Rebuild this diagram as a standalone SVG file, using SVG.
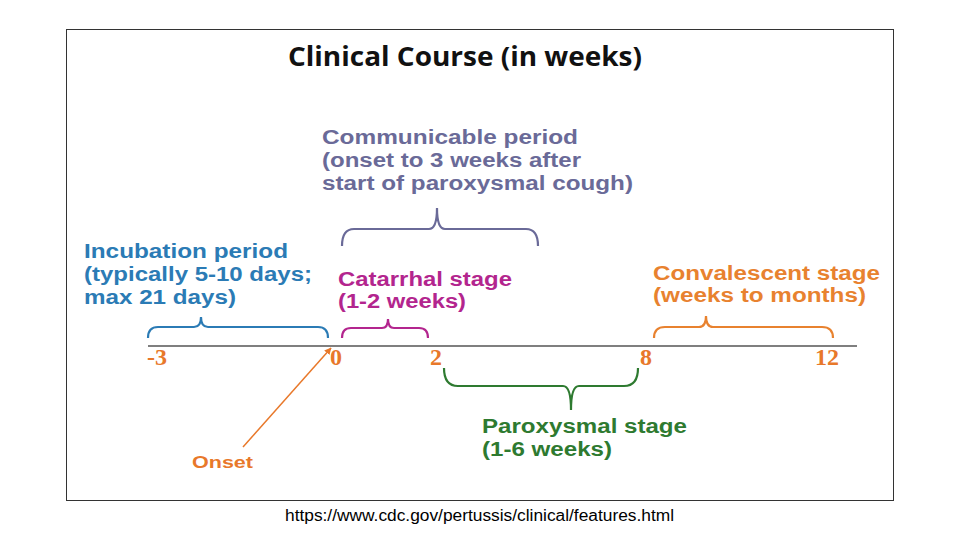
<svg xmlns="http://www.w3.org/2000/svg" width="960" height="540" viewBox="0 0 960 540">
<defs>
<style>
.lbl{font-family:"Liberation Sans",Arial,sans-serif;font-weight:bold;font-size:19.5px}
.tick{font-family:"Liberation Serif","Times New Roman",serif;font-weight:bold;font-size:24px;fill:#e8782a}
.brace{fill:none;stroke-width:2.2}
</style>
<marker id="ah" viewBox="0 0 10 10" refX="9" refY="5" markerWidth="7" markerHeight="7" orient="auto-start-reverse" markerUnits="userSpaceOnUse">
<path d="M0,0 L10,5 L0,10 z" fill="#e8782a"/>
</marker>
</defs>
<rect width="960" height="540" fill="#ffffff"/>
<rect x="66.5" y="29.5" width="827" height="471" fill="none" stroke="#333" stroke-width="1"/>
<text x="288" y="66" textLength="354" lengthAdjust="spacingAndGlyphs" font-family="Open Sans, Liberation Sans, sans-serif" font-weight="bold" font-size="26" fill="#111">Clinical Course (in weeks)</text>

<g id="axis">
<line x1="148" y1="346" x2="857" y2="346" stroke="#555" stroke-width="1.5"/>
<text class="tick" x="147" y="365">-3</text>
<text class="tick" x="330" y="365">0</text>
<text class="tick" x="430" y="365">2</text>
<text class="tick" x="640" y="365">8</text>
<text class="tick" x="815" y="365">12</text>
</g>

<g id="communicable">
<text class="lbl" fill="#6a6a98"><tspan x="322" y="144" textLength="256" lengthAdjust="spacingAndGlyphs">Communicable period</tspan><tspan x="322" y="167" textLength="259" lengthAdjust="spacingAndGlyphs">(onset to 3 weeks after</tspan><tspan x="322" y="190" textLength="311" lengthAdjust="spacingAndGlyphs">start of paroxysmal cough)</tspan></text>
<path class="brace" stroke="#6a6a98" d="M342,246 Q342,229 354,229 L429,229 Q437,229 437,208 Q437,229 445,229 L526,229 Q538,229 538,246"/>
</g>

<g id="incubation">
<text class="lbl" fill="#2b7bb5"><tspan x="84" y="258" textLength="204" lengthAdjust="spacingAndGlyphs">Incubation period</tspan><tspan x="84" y="281" textLength="228" lengthAdjust="spacingAndGlyphs">(typically 5-10 days;</tspan><tspan x="84" y="304" textLength="152" lengthAdjust="spacingAndGlyphs">max 21 days)</tspan></text>
<path class="brace" stroke="#2b7bb5" d="M148,338 Q148,327 158,327 L194,327 Q201,327 201,317 Q201,327 208,327 L318,327 Q328,327 328,338"/>
</g>

<g id="catarrhal">
<text class="lbl" fill="#b3258e"><tspan x="338" y="286" textLength="174" lengthAdjust="spacingAndGlyphs">Catarrhal stage</tspan><tspan x="338" y="308" textLength="128" lengthAdjust="spacingAndGlyphs">(1-2 weeks)</tspan></text>
<path class="brace" stroke="#b3258e" d="M342,338 Q342,328 351,328 L382,328 Q388,328 388,319 Q388,328 394,328 L419,328 Q428,328 428,338"/>
</g>

<g id="convalescent">
<text class="lbl" fill="#e8822f"><tspan x="653" y="280" textLength="227" lengthAdjust="spacingAndGlyphs">Convalescent stage</tspan><tspan x="653" y="302" textLength="213" lengthAdjust="spacingAndGlyphs">(weeks to months)</tspan></text>
<path class="brace" stroke="#e8822f" d="M654,338 Q654,327 665,327 L699,327 Q706,327 706,316 Q706,327 713,327 L822,327 Q833,327 833,338"/>
</g>

<g id="paroxysmal">
<path class="brace" stroke="#2e7a30" d="M444,368 Q444,386 458,386 L563,386 Q571,386 571,410 Q571,386 579,386 L624,386 Q638,386 638,368"/>
<text class="lbl" fill="#2e7a30"><tspan x="482" y="433" textLength="205" lengthAdjust="spacingAndGlyphs">Paroxysmal stage</tspan><tspan x="482" y="456" textLength="130" lengthAdjust="spacingAndGlyphs">(1-6 weeks)</tspan></text>
</g>

<g id="connectors">
<line x1="243" y1="447" x2="331" y2="348" stroke="#e8782a" stroke-width="1.5" marker-end="url(#ah)"/>
</g>

<g id="onset">
<text x="192" y="468" textLength="61" lengthAdjust="spacingAndGlyphs" font-family="Liberation Sans, Arial, sans-serif" font-weight="bold" font-size="17" fill="#e8782a">Onset</text>
</g>

<text x="285" y="521" textLength="389" lengthAdjust="spacingAndGlyphs" font-family="Liberation Sans, Arial, sans-serif" font-size="16" fill="#000">https://www.cdc.gov/pertussis/clinical/features.html</text>
</svg>
